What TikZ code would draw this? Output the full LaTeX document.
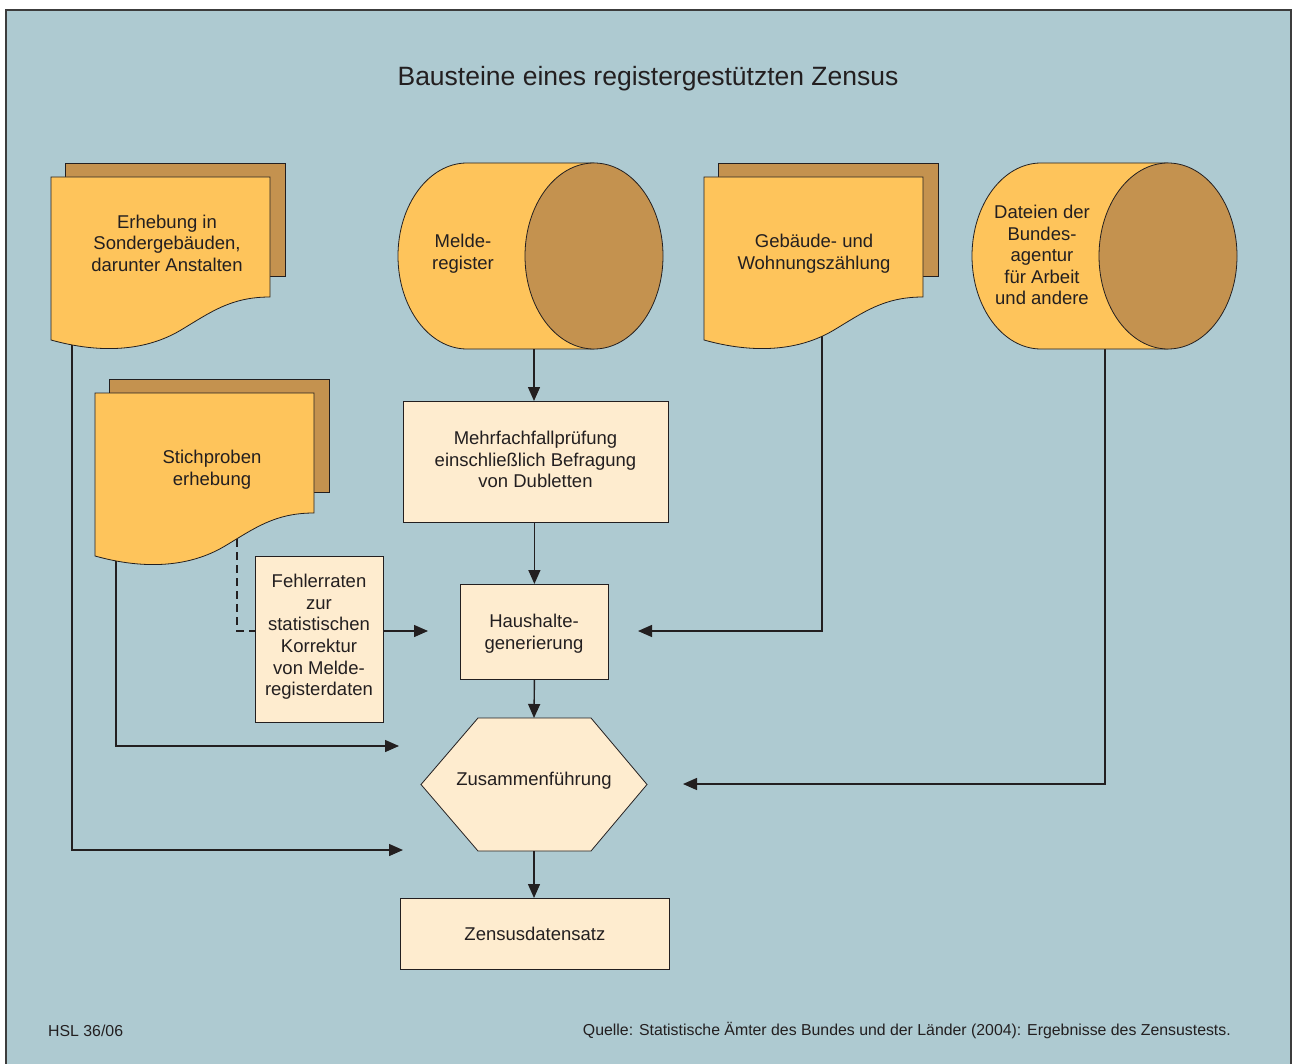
\documentclass[tikz,border=0pt]{standalone}
\usepackage{fontspec}
\setmainfont{Liberation Sans}
\usetikzlibrary{arrows.meta,calc}
\definecolor{bgc}{RGB}{174,202,209}
\definecolor{frontc}{RGB}{254,196,91}
\definecolor{backc}{RGB}{196,146,79}
\definecolor{lightc}{RGB}{254,236,207}
\definecolor{linec}{RGB}{35,31,32}
\definecolor{framec}{RGB}{60,60,60}
\pgfdeclarelayer{back}
\pgfdeclarelayer{conn}
\pgfsetlayers{back,conn,main}
\newcommand{\docshape}[2]{%
\begin{scope}[shift={(#1,#2)}]
\filldraw[shapeline, fill=backc] (14,-14) rectangle (234,99);
\filldraw[shapeline, fill=frontc] (0,0) -- (219,0) -- (219,120)
  .. controls (180,120) and (160,135) .. (130,153)
  .. controls (95,174) and (50,177) .. (0,163) -- cycle;
\end{scope}}
\newcommand{\cylshape}[2]{%
\filldraw[shapeline, fill=frontc] (#2,163) -- (#1,163)
  arc[start angle=90, end angle=270, x radius=69pt, y radius=93pt] -- (#2,349) -- cycle;
\filldraw[shapeline, fill=backc] (#2,256) ellipse[x radius=69pt, y radius=93pt];}
\begin{document}
\begin{tikzpicture}[x=1pt,y=-1pt,
  shapeline/.style={draw=linec, line width=0.8pt},
  txt/.style={text=linec, align=center, inner sep=0pt, font=\fontsize{18.5}{21.6}\selectfont},
  lbox/.style={txt, shapeline, fill=lightc, anchor=north west},
  conn/.style={draw=linec, line width=1.4pt, -{Triangle[length=14pt,width=12pt]}},
  dashline/.style={draw=linec, line width=1.4pt, dash pattern=on 8pt off 5pt}]
\useasboundingbox (0,0) rectangle (1292,1064);
\begin{pgfonlayer}{back}
\fill[white] (0,0) rectangle (1292,1064);
\fill[bgc] (6,10) rectangle (1291,1064);
\draw[framec, line width=1.5pt] (6,1064) -- (6,10) -- (1291,10) -- (1291,1064);
\end{pgfonlayer}

% title
\node[text=linec, inner sep=0pt, font=\fontsize{26.5}{30}\selectfont] (title) at (648,79) {Bausteine eines registergestützten Zensus};

% sources
\docshape{51}{177}
\node[txt] (erh) at (167,243) {Erhebung in\\Sondergebäuden,\\darunter Anstalten};
\docshape{95}{393}
\node[txt] (stich) at (212,470) {Stichproben\\erhebung};
\docshape{704}{177}
\node[txt] (geb) at (814,254) {Gebäude- und\\Wohnungszählung};
\cylshape{467}{594}
\node[txt] (melde) at (463,254) {Melde-\\register};
\cylshape{1041}{1168}
\node[txt] (dat) at (1042,255) {Dateien der\\Bundes-\\agentur\\für Arbeit\\und andere};

% process boxes
\node[lbox, minimum width=265pt, minimum height=121pt] (mehr) at (403,401) {};
\node[txt] (mehrT) at (535.5,459.5) {Mehrfachfallprüfung\\einschließlich Befragung\\von Dubletten};
\node[lbox, minimum width=128pt, minimum height=166pt] (fehl) at (255,556) {};
\node[txt] (fehlT) at (319,637) {Fehlerraten\\zur\\statistischen\\Korrektur\\von Melde-\\registerdaten};
\node[lbox, minimum width=148pt, minimum height=95pt] (haus) at (460,584) {};
\node[txt] (hausT) at (534,634) {Haushalte-\\generierung};
\filldraw[shapeline, fill=lightc] (478,718) -- (591,718) -- (647,784.5) -- (591,851) -- (478,851) -- (421,784.5) -- cycle;
\node[txt] (zus) at (534,781) {Zusammenführung};
\node[lbox, minimum width=269pt, minimum height=71pt] (zen) at (400,898) {Zensusdatensatz};

% coordinates
\coordinate (meldeOut) at (534,349);
\coordinate (hexT) at (534,718);
\coordinate (hexB) at (534,851);
\coordinate (erhOut) at (72,300);
\coordinate (stichOut) at (116,520);
\coordinate (stichDash) at (237,500);
\coordinate (gebOut) at (822,300);
\coordinate (datOut) at (1105,300);
\coordinate (hausInL) at (428,631);
\coordinate (hausInR) at (638,631);
\coordinate (zusInR) at (683,784);
\coordinate (zusInA) at (399,746);
\coordinate (zusInB) at (403,850);

% connectors
\draw[conn] (meldeOut) -- (meldeOut |- mehr.north);
\draw[conn] (mehr.south -| haus.north) -- (haus.north);
\draw[conn] (haus.south) -- (hexT);
\draw[conn] (hexB) -- (hexB |- zen.north);
\draw[conn] (fehl.east |- hausInL) -- (hausInL);
\begin{pgfonlayer}{conn}
\draw[conn] (erhOut) |- (zusInB);
\draw[conn] (stichOut) |- (zusInA);
\draw[dashline] (stichDash) |- (fehl.west |- hausInL);
\draw[conn] (gebOut) |- (hausInR);
\draw[conn] (datOut) |- (zusInR);
\end{pgfonlayer}

% footer
\node[text=linec, inner sep=0pt, anchor=west, font=\fontsize{15.85}{19}\selectfont] (hsl) at (48,1031) {HSL 36/06};
\node[text=linec, inner sep=0pt, anchor=east, font=\fontsize{15.85}{19}\selectfont] (quelle) at (1231,1031) {Quelle: Statistische Ämter des Bundes und der Länder (2004): Ergebnisse des Zensustests.};
\end{tikzpicture}
\end{document}
